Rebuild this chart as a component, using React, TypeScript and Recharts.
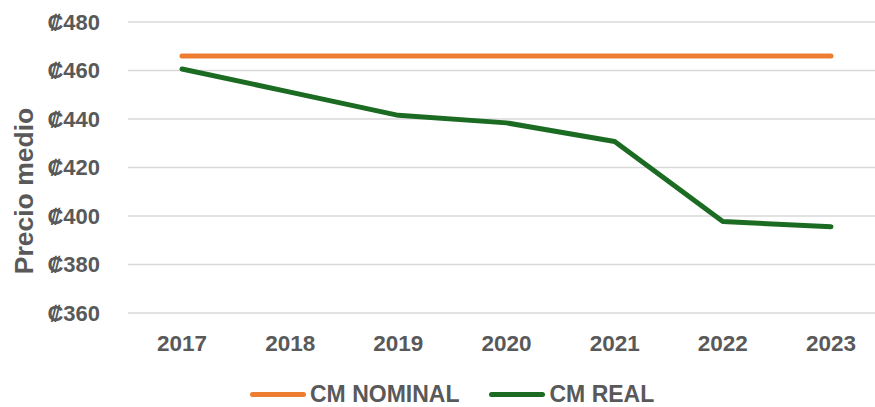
import React from "react";
import { LineChart, Line, XAxis, YAxis, CartesianGrid, Legend } from "recharts";

const years = ["2017", "2018", "2019", "2020", "2021", "2022", "2023"];
const nominal = [466, 466, 466, 466, 466, 466, 466];
const real = [460.6, 451.1, 441.5, 438.4, 430.7, 397.7, 395.6];
const yTicks = [360, 380, 400, 420, 440, 460, 480];

const data = years.map((y, i) => ({ year: y, nominal: nominal[i], real: real[i] }));

const ORANGE = "#ED7D31";
const GREEN = "#1C6B23";
const TEXT = "#595959";
const FONT = "'Liberation Sans', Arial, sans-serif";

const LegendContent = () => (
  <div style={{ display: "flex", alignItems: "center", fontFamily: FONT, fontWeight: 700, fontSize: 23, color: TEXT, lineHeight: "22px", height: 22 }}>
    <span style={{ display: "inline-block", width: 56, height: 5, borderRadius: 3, background: ORANGE, marginRight: 4 }} />
    <span style={{ marginRight: 30 }}>CM NOMINAL</span>
    <span style={{ display: "inline-block", width: 56, height: 5, borderRadius: 3, background: GREEN, marginRight: 4 }} />
    <span>CM REAL</span>
  </div>
);

const YLabel = () => (
  <text
    x={33}
    y={191}
    transform="rotate(-90 33 191)"
    textAnchor="middle"
    fill={TEXT}
    fontSize={26.5}
    fontWeight={700}
    fontFamily={FONT}
  >
    Precio medio
  </text>
);

export default function App() {
  return (
    <div style={{ position: "absolute", left: 0, top: 0, width: 875, height: 407, overflow: "hidden", background: "#fff" }}>
      <LineChart width={885} height={407} data={data} margin={{ top: 22, right: 0, bottom: 42, left: 0 }}>
        <CartesianGrid vertical={false} stroke="#D9D9D9" strokeWidth={1.5} />
        <XAxis
          dataKey="year"
          axisLine={false}
          tickLine={false}
          tickSize={0}
          tickMargin={22}
          padding={{ left: 54, right: 54 }}
          tick={{ fill: TEXT, fontSize: 22.5, fontWeight: 700, fontFamily: FONT }}
          interval={0}
        />
        <YAxis
          domain={[360, 480]}
          ticks={yTicks}
          width={128}
          axisLine={false}
          tickLine={false}
          tickSize={0}
          tickMargin={28}
          tickFormatter={(v) => `₡${v}`}
          tick={{ fill: TEXT, fontSize: 22, fontWeight: 700, fontFamily: FONT }}
          label={<YLabel />}
        />
        <Legend content={<LegendContent />} wrapperStyle={{ left: 250, top: 383, width: "auto", height: 22 }} />
        <Line dataKey="nominal" stroke={ORANGE} strokeWidth={5} dot={false} isAnimationActive={false} strokeLinecap="round" />
        <Line dataKey="real" stroke={GREEN} strokeWidth={5} dot={false} isAnimationActive={false} strokeLinecap="round" strokeLinejoin="round" />
      </LineChart>
    </div>
  );
}
